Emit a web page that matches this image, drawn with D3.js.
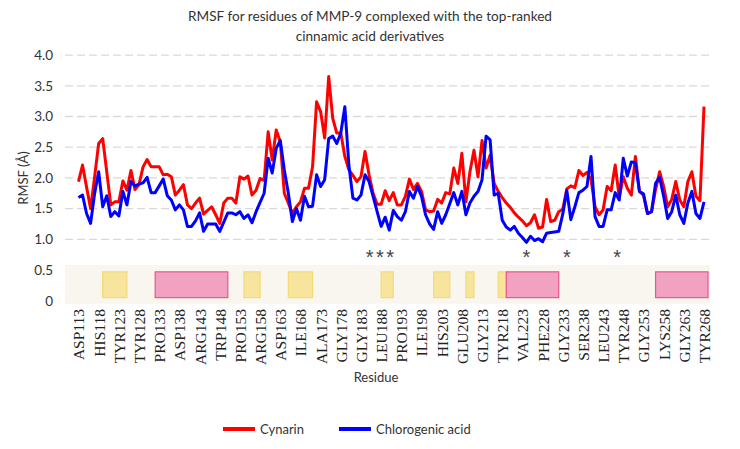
<!DOCTYPE html>
<html><head><meta charset="utf-8">
<script src="https://cdn.jsdelivr.net/npm/d3@7"></script>
<style>
body{margin:0;background:#fff;}
svg{display:block;}
</style></head>
<body>
<svg id="c" width="740" height="449"></svg>
<script>
// ---- data ----
const firstResidue = 113;
const lastResidue = 268;
const cynarin = [
 1.94,2.21,1.85,1.50,2.02,2.56,2.64,2.10,1.56,1.61,
 1.61,1.95,1.80,2.12,1.81,1.89,2.18,2.30,2.18,2.18,
 2.18,2.05,2.06,2.02,1.72,1.80,1.89,1.56,1.50,1.59,
 1.67,1.41,1.47,1.53,1.40,1.26,1.59,1.67,1.67,1.59,
 2.02,1.98,2.03,1.72,1.80,1.99,1.96,2.75,2.29,2.78,
 2.59,1.75,1.59,1.42,1.53,1.61,1.83,1.83,2.18,3.24,
 3.08,2.65,3.65,2.97,2.73,2.73,2.35,2.13,2.04,1.94,
 2.02,2.43,2.05,1.75,1.57,1.57,1.79,1.63,1.76,1.56,
 1.56,1.70,1.98,1.81,1.91,1.78,1.48,1.45,1.46,1.65,
 1.59,1.76,1.74,2.16,1.91,2.40,1.61,2.10,2.45,2.02,
 2.61,2.16,2.37,1.91,1.78,1.68,1.59,1.52,1.43,1.36,
 1.30,1.22,1.27,1.40,1.18,1.20,1.65,1.29,1.31,1.45,
 1.49,1.82,1.87,1.84,2.12,2.04,2.09,1.97,1.53,1.40,
 1.48,1.86,1.79,2.21,1.68,2.02,1.83,1.72,2.35,1.78,
 1.72,1.42,1.45,1.81,2.10,1.86,1.53,1.65,1.94,1.64,
 1.53,1.94,2.10,1.70,1.63,3.16
];
const chlorogenic = [
 1.68,1.72,1.42,1.26,1.75,2.10,1.53,1.71,1.37,1.45,
 1.38,1.78,1.56,1.94,1.87,1.90,1.92,2.01,1.76,1.76,
 1.87,1.98,1.71,1.64,1.48,1.56,1.48,1.21,1.21,1.30,
 1.43,1.13,1.25,1.25,1.25,1.13,1.28,1.43,1.43,1.40,
 1.45,1.34,1.40,1.27,1.45,1.60,1.75,2.32,2.08,2.48,
 2.61,2.13,1.75,1.29,1.50,1.31,1.70,1.53,1.54,2.05,
 1.86,1.97,2.64,2.68,2.56,2.73,3.16,2.21,1.67,1.64,
 1.72,2.05,1.94,1.70,1.45,1.21,1.36,1.15,1.47,1.37,
 1.31,1.45,1.78,1.67,1.86,1.70,1.40,1.25,1.16,1.45,
 1.26,1.40,1.58,1.76,1.56,1.78,1.40,1.59,1.70,1.78,
 1.97,2.68,2.62,1.72,1.75,1.31,1.20,1.15,1.21,1.10,
 1.03,0.95,1.05,0.98,1.01,0.96,1.10,1.11,1.12,1.13,
 1.41,1.80,1.32,1.53,1.76,1.80,1.86,2.35,1.37,1.21,
 1.21,1.48,1.48,1.76,1.64,2.32,2.03,2.26,2.25,1.78,
 1.74,1.42,1.45,1.91,2.01,1.70,1.34,1.45,1.72,1.40,
 1.26,1.59,1.78,1.42,1.34,1.61
];
const tickLabels = ["ASP113","HIS118","TYR123","TYR128","PRO133","ASP138","ARG143","TRP148",
 "PRO153","ARG158","ASP163","ILE168","ALA173","GLY178","GLY183","LEU188","PRO193","ILE198",
 "HIS203","GLU208","GLY213","TYR218","VAL223","PHE228","GLY233","SER238","LEU243","TYR248",
 "GLY253","LYS258","GLY263","TYR268"];
const yTicks = [0,0.5,1.0,1.5,2.0,2.5,3.0,3.5,4.0];
const gridValues = [1.0,1.5,2.0,2.5,3.0,3.5,4.0];
// secondary structure bands (start residue, end residue, type)
const bandStart = [119,132,154,165,188,201,209,217,219,256];
const bandEnd   = [125,150,158,171,191,205,211,219,232,269];
const bandType  = ["strand","helix","strand","strand","strand","strand","strand","strand","helix","helix"];
// significance marks
const markResidue = [188,224,234,246.5];
const markText = ["***","*","*","*"];
const seriesNames = ["Cynarin","Chlorogenic acid"];
const seriesColors = ["#ff0000","#0000ff"];

// ---- chart ----
const svg = d3.select("#c");
const residues = d3.range(firstResidue, lastResidue + 1);
const x = d3.scaleLinear().domain([firstResidue, lastResidue]).range([78.5, 704]);
const y = d3.scaleLinear().domain([0, 4]).range([300.7, 55.1]);
const left = 65, right = 712;
const sans = "Lato, 'Noto Sans', sans-serif";

// title
const title = svg.append("text").attr("x", 370).attr("text-anchor", "middle")
  .style("font-family", sans).style("font-size", "13.6px").attr("fill", "#333");
title.append("tspan").attr("x", 370).attr("y", 21).text("RMSF for residues of MMP-9 complexed with the top-ranked");
title.append("tspan").attr("x", 370).attr("y", 41).text("cinnamic acid derivatives");

// gridlines
svg.append("g").selectAll("line").data(gridValues).join("line")
  .attr("x1", left).attr("x2", right)
  .attr("y1", d => y(d)).attr("y2", d => y(d))
  .attr("stroke", "#d9d9d9").attr("stroke-width", 1.3).attr("stroke-dasharray", "8,4");

// band background
svg.append("rect").attr("x", left).attr("width", 710 - left)
  .attr("y", y(0.58)).attr("height", y(-0.05) - y(0.58)).attr("fill", "#f8f6ef");

// bands
svg.append("g").selectAll("rect").data(bandStart.map((s, i) => ({s, e: bandEnd[i], t: bandType[i]}))).join("rect")
  .attr("x", d => x(d.s)).attr("width", d => x(d.e) - x(d.s))
  .attr("y", y(0.47)).attr("height", y(0.05) - y(0.47))
  .attr("fill", d => d.t === "helix" ? "#f0a2c0" : "#f7e59d")
  .attr("stroke", d => d.t === "helix" ? "#e9558f" : "#f3db74").attr("stroke-width", 1.2);

// y axis
const yAxis = d3.axisLeft(y).tickValues(yTicks).tickSize(0).tickPadding(0)
  .tickFormat(d => d === 0 ? "0" : d3.format(".1f")(d));
const ya = svg.append("g").attr("transform", "translate(53,0)").call(yAxis);
ya.select(".domain").remove();
ya.selectAll("text").style("font-family", sans).style("font-size", "13.5px").attr("fill", "#333");

svg.append("text").attr("transform", "translate(28,178) rotate(-90)").attr("text-anchor", "middle")
  .style("font-family", sans).style("font-size", "13px").attr("fill", "#333")
  .text("RMSF (Å)");

// x axis
const tickRes = tickLabels.map(t => +t.slice(3));
const xAxis = d3.axisBottom(x).tickValues(tickRes).tickSize(0)
  .tickFormat((d, i) => tickLabels[i]);
const xa = svg.append("g").attr("transform", "translate(0,309)").call(xAxis);
xa.select(".domain").remove();
xa.selectAll("text").attr("transform", "rotate(-90)").attr("x", 0).attr("y", 0).attr("dy", "0.35em")
  .style("text-anchor", "end").style("font-family", "'Liberation Serif', 'Times New Roman', serif")
  .style("font-size", "15.5px").attr("fill", "#222");

svg.append("text").attr("x", 376).attr("y", 382).attr("text-anchor", "middle")
  .style("font-family", sans).style("font-size", "13px").attr("fill", "#333")
  .text("Residue");

// lines
const line = d3.line().x(d => x(d.r)).y(d => y(d.v));
[cynarin, chlorogenic].forEach((vals, k) => {
  svg.append("path").datum(residues.map((r, i) => ({r, v: vals[i]})))
    .attr("d", line).attr("fill", "none").attr("stroke", seriesColors[k])
    .attr("stroke-width", 3).attr("stroke-linejoin", "round");
});

// significance marks
svg.append("g").selectAll("text").data(markResidue.map((r, i) => ({r, t: markText[i]}))).join("text")
  .attr("x", d => x(d.r)).attr("y", 264).attr("text-anchor", "middle")
  .style("font-family", "'Liberation Sans', Arial, sans-serif").style("font-size", "20px")
  .style("letter-spacing", d => d.t.length > 1 ? "2.5px" : "0px")
  .attr("fill", "#444").text(d => d.t);

// legend
const legX = [223, 339];
const lg = svg.append("g").selectAll("g").data(seriesNames).join("g")
  .attr("transform", (d, i) => `translate(${legX[i]},429)`);
lg.append("line").attr("x1", 0).attr("x2", 32).attr("stroke", (d, i) => seriesColors[i]).attr("stroke-width", 4);
lg.append("text").attr("x", 37).attr("dy", "0.35em")
  .style("font-family", sans).style("font-size", "13px").attr("fill", "#333")
  .text(d => d);
</script>
</body></html>
